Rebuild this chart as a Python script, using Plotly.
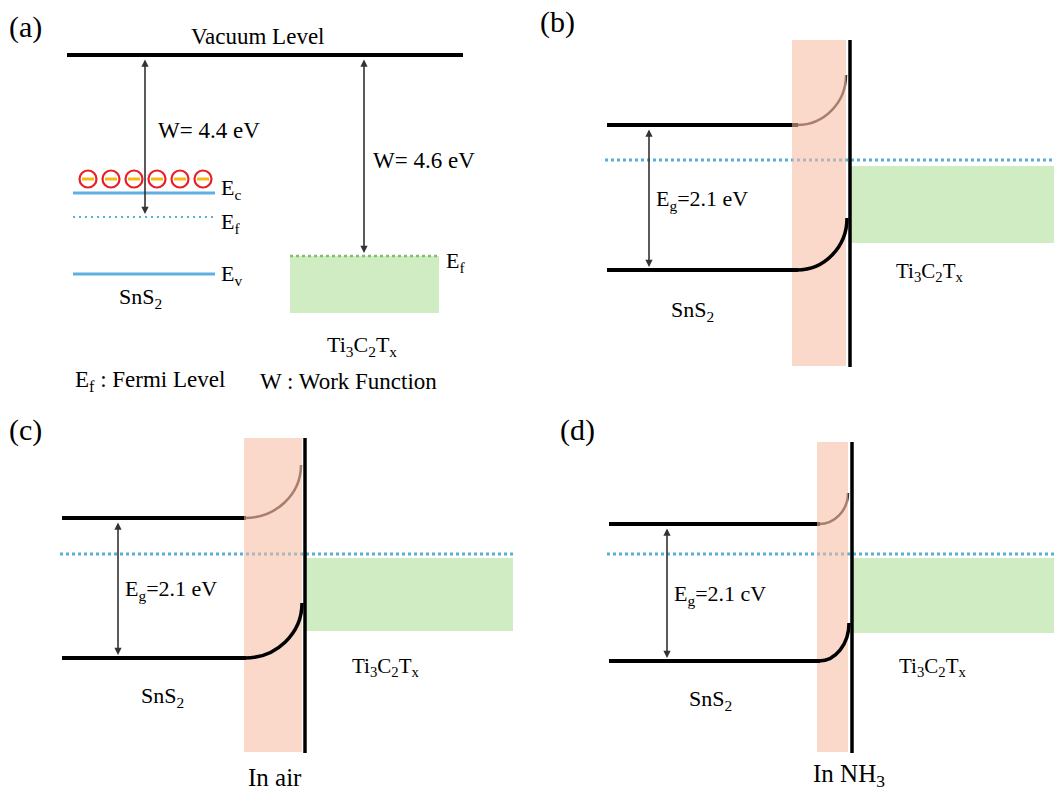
import plotly.graph_objects as go

# ---------------- data ----------------
work_functions = [4.4, 4.6]          # eV, SnS2 and Ti3C2Tx
band_gap = 2.1                        # eV
panel_labels = ["(a)", "(b)", "(c)", "(d)"]
ambient_labels = ["", "", "In air", "In NH<sub>3</sub>"]
gap_units = ["", "eV", "eV", "cV"]
level_labels_a = ["E<sub>c</sub>", "E<sub>f</sub>", "E<sub>v</sub>"]
n_electrons = 6

# ---------------- geometry (pixel-space axes) ----------------
W, H = 1054, 793
SERIF = "Liberation Serif, Times New Roman, serif"
BLUE = "rgb(95,175,225)"
DOTBLUE = "rgb(90,175,215)"
GREEN = "rgba(190,228,170,0.72)"
PINK = "rgba(246,185,160,0.56)"
TXT = 22

shapes = []
ann = []

def line(x0, y0, x1, y1, color="black", width=4, dash="solid"):
    shapes.append(dict(type="line", x0=x0, y0=y0, x1=x1, y1=y1, xref="x", yref="y",
                       line=dict(color=color, width=width, dash=dash)))

def rect(x0, y0, x1, y1, fill, layer="above"):
    shapes.append(dict(type="rect", x0=x0, y0=y0, x1=x1, y1=y1, xref="x", yref="y",
                       fillcolor=fill, line=dict(width=0), layer=layer))

def text(x, y, s, size=TXT, xanchor="center", color="black"):
    ann.append(dict(x=x, y=y, xref="x", yref="y", text=s, showarrow=False,
                    xanchor=xanchor, yanchor="middle",
                    font=dict(family=SERIF, size=size, color=color)))

def darrow(x, y0, y1, color="#333333", width=1.6):
    ann.append(dict(x=x, y=y1, ax=x, ay=y0, xref="x", yref="y", axref="x", ayref="y",
                    text="", showarrow=True, arrowhead=2, arrowside="end+start",
                    arrowsize=0.9, arrowwidth=width, arrowcolor=color, standoff=0,
                    startstandoff=0))

def curve(x0, y0, x1, y1, color, width):
    k = 0.5523
    c1x, c1y = x0 + k * (x1 - x0), y0
    c2x, c2y = x1, y1 + k * (y0 - y1)
    shapes.append(dict(type="path", xref="x", yref="y",
                       path=f"M {x0},{y0} C {c1x},{c1y} {c2x},{c2y} {x1},{y1}",
                       line=dict(color=color, width=width)))

# ---------------- panel (a) ----------------
text(25, 27, panel_labels[0], size=30)
text(257, 36, "Vacuum Level", size=23)
line(67, 55, 463, 55, width=4)

# SnS2 levels
line(73, 193, 215, 193, color=BLUE, width=3)
line(73, 217, 215, 217, color=DOTBLUE, width=2, dash="2px,4px")
line(73, 274, 215, 274, color=BLUE, width=3)
text(219, 189, level_labels_a[0], xanchor="left")
text(219, 223, level_labels_a[1], xanchor="left")
text(219, 275, level_labels_a[2], xanchor="left")
text(140, 298, "SnS<sub>2</sub>")

# electrons
ex0, dx = 88, 23
for i in range(n_electrons):
    cx = ex0 + i * dx
    shapes.append(dict(type="circle", xref="x", yref="y", x0=cx - 8.5, y0=179 - 8.5,
                       x1=cx + 8.5, y1=179 + 8.5, line=dict(color="rgb(235,30,40)", width=2.2),
                       fillcolor="white"))
    line(cx - 6, 179, cx + 6, 179, color="rgb(245,185,20)", width=3)

# Ti3C2Tx
rect(290, 256, 439, 313, GREEN, layer="below")
line(290, 256, 439, 256, color="rgb(130,190,110)", width=2.5, dash="3px,3px")
text(444, 262, "E<sub>f</sub>", xanchor="left")
text(362, 346, "Ti<sub>3</sub>C<sub>2</sub>T<sub>x</sub>")

darrow(145, 58, 214)
text(156, 130, f"W= {work_functions[0]} eV", xanchor="left", size=23)
darrow(364, 58, 253)
text(371, 160, f"W= {work_functions[1]} eV", xanchor="left", size=23)

text(73, 381, "E<sub>f</sub> : Fermi Level", xanchor="left", size=23)
text(258, 381, "W : Work Function", xanchor="left", size=23)

# ---------------- panels (b), (c), (d) ----------------
panels = [
    dict(lab=(557, 22), xl=607, xb=797, px0=792, px1=846, xi=850, yt=40, yb=366,
         cb=125, cbt=75, vb=270, vbt=218, ef=160, gy0=166, gy1=243, xe=1054, ax=649,
         ti=(929, 272), sn=(692, 311), amb=(820, 780), ai=1),
    dict(lab=(25, 430), xl=62, xb=245, px0=244, px1=302, xi=305, yt=438, yb=752,
         cb=518, cbt=465, vb=658, vbt=603, ef=554, gy0=558, gy1=631, xe=513, ax=118,
         ti=(385, 667), sn=(162, 697), amb=(275, 777), ai=2),
    dict(lab=(577, 430), xl=609, xb=819, px0=817, px1=848, xi=852, yt=442, yb=752,
         cb=524, cbt=493, vb=661, vbt=623, ef=554, gy0=558, gy1=633, xe=1054, ax=667,
         ti=(932, 667), sn=(710, 700), amb=(849, 775), ai=3),
]

for p in panels:
    i = p["ai"]
    text(*p["lab"], panel_labels[i], size=30)
    # green metal band
    rect(p["xi"], p["gy0"], p["xe"], p["gy1"], GREEN, layer="below")
    # fermi level
    line(p["xl"] - 2, p["ef"], p["xe"], p["ef"], color=DOTBLUE, width=3, dash="3px,3px")
    # upper (CB) band bending, drawn under the pink depletion zone
    curve(p["xb"], p["cb"], p["xi"] - 4, p["cbt"], "rgb(70,50,45)", 2.5)
    line(p["xl"], p["cb"], p["xb"] + 1, p["cb"], width=4)
    # depletion region
    rect(p["px0"], p["yt"], p["px1"], p["yb"], PINK)
    # lower (VB) band bending
    line(p["xl"], p["vb"], p["xb"] + 1, p["vb"], width=4)
    curve(p["xb"], p["vb"], p["xi"] - 3, p["vbt"], "black", 3.5)
    # interface
    line(p["xi"], p["yt"], p["xi"], p["yb"] + 1, width=3.5)
    # band gap arrow
    darrow(p["ax"], p["cb"] + 3, p["vb"] - 3)
    text(p["ax"] + 5, (p["cb"] + p["vb"]) / 2 + 2, f"E<sub>g</sub>={band_gap} {gap_units[i]}",
         xanchor="left")
    text(*p["ti"], "Ti<sub>3</sub>C<sub>2</sub>T<sub>x</sub>", size=21)
    text(*p["sn"], "SnS<sub>2</sub>")
    if ambient_labels[i]:
        text(*p["amb"], ambient_labels[i], size=25)

fig = go.Figure()
fig.add_trace(go.Scatter(x=[0, W], y=[0, H], mode="markers", marker=dict(opacity=0),
                         hoverinfo="skip", showlegend=False))
fig.update_layout(
    width=W, height=H, margin=dict(l=0, r=0, t=0, b=0),
    paper_bgcolor="white", plot_bgcolor="white",
    xaxis=dict(range=[0, W], visible=False, fixedrange=True),
    yaxis=dict(range=[H, 0], visible=False, fixedrange=True),
    shapes=shapes, annotations=ann, showlegend=False,
)
fig.write_html("out.html")
